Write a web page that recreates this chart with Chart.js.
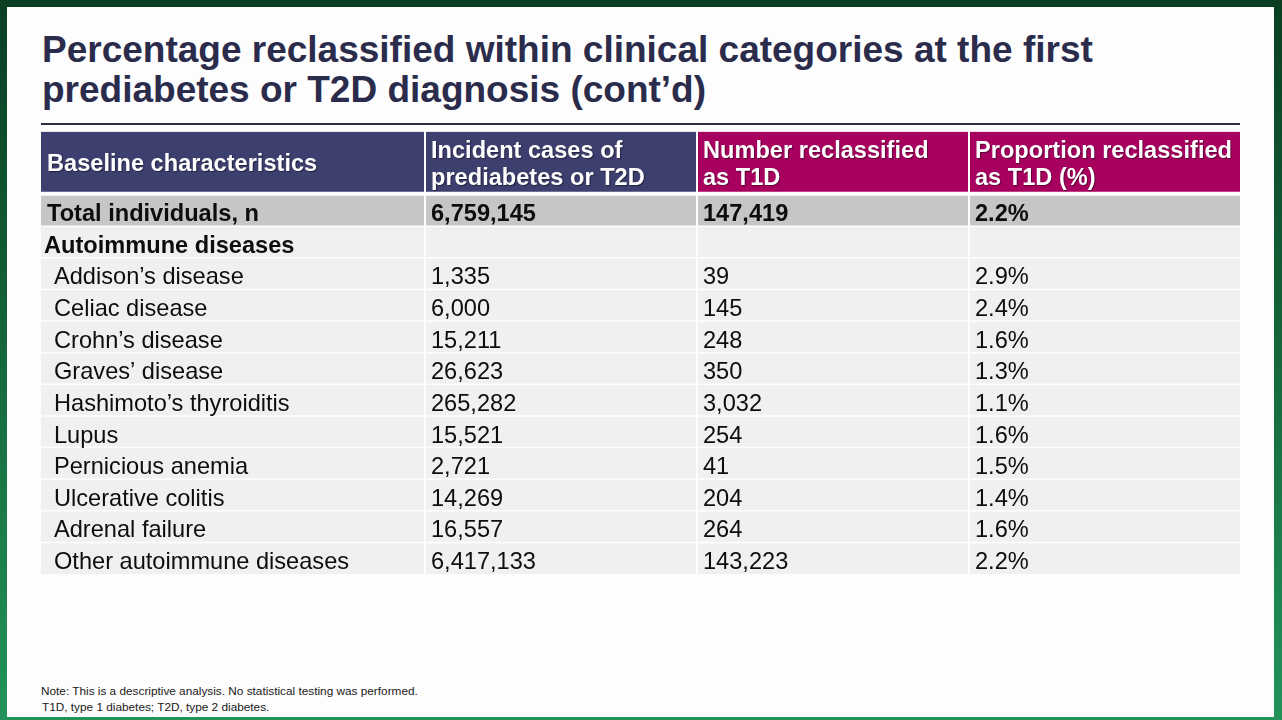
<!DOCTYPE html>
<html>
<head>
<meta charset="utf-8">
<script src="https://cdn.jsdelivr.net/npm/chart.js@4.4.1/dist/chart.umd.min.js"></script>
<style>
  html, body { margin: 0; padding: 0; }
  body {
    width: 1282px; height: 720px; position: relative; overflow: hidden;
    background: linear-gradient(to bottom, #0a3f22 0%, #115a33 35%, #1a7a48 70%, #23935a 100%);
    font-family: "Liberation Sans", Arial, sans-serif;
  }
  #panel {
    position: absolute; left: 7px; top: 7px; width: 1267px; height: 710px;
    background: #fdfdfd;
  }
  #title {
    position: absolute; left: 42px; top: 30px; margin: 0;
    font: bold 37px/40px "Liberation Sans", Arial, sans-serif;
    color: #2b2c4c; white-space: nowrap;
  }
  #rule {
    position: absolute; left: 41px; top: 123px; width: 1199px; height: 2px;
    background: #2e2e3c;
  }
  #table {
    position: absolute; left: 41px; top: 131px;
  }
  #notes {
    position: absolute; left: 41px; top: 683px;
    font: 11.8px/16px "Liberation Sans", Arial, sans-serif;
    color: #1a1a1a; white-space: nowrap;
  }
  #notes div + div { padding-left: 1px; }
</style>
</head>
<body>
<div id="panel"></div>
<h1 id="title"></h1>
<div id="rule"></div>
<canvas id="table" width="1199" height="443"></canvas>
<div id="notes"></div>
<script>
// ---------- DATA ----------
const titleLines = [
  'Percentage reclassified within clinical categories at the first',
  'prediabetes or T2D diagnosis (cont\u2019d)'
];
const columnHeaders = [
  ['Baseline characteristics'],
  ['Incident cases of', 'prediabetes or T2D'],
  ['Number reclassified', 'as T1D'],
  ['Proportion reclassified', 'as T1D (%)']
];
const totalLabel = 'Total individuals, n';
const totalIncident = 6759145;
const totalReclassified = 147419;
const totalProportion = 2.2;
const groupLabel = 'Autoimmune diseases';
const diseases = [
  'Addison\u2019s disease', 'Celiac disease', 'Crohn\u2019s disease', 'Graves\u2019 disease',
  'Hashimoto\u2019s thyroiditis', 'Lupus', 'Pernicious anemia', 'Ulcerative colitis',
  'Adrenal failure', 'Other autoimmune diseases'
];
const incidentCases = [1335, 6000, 15211, 26623, 265282, 15521, 2721, 14269, 16557, 6417133];
const numberReclassified = [39, 145, 248, 350, 3032, 254, 41, 204, 264, 143223];
const proportionReclassified = [2.9, 2.4, 1.6, 1.3, 1.1, 1.6, 1.5, 1.4, 1.6, 2.2];
const notes = [
  'Note: This is a descriptive analysis. No statistical testing was performed.',
  'T1D, type 1 diabetes; T2D, type 2 diabetes.'
];

// ---------- LAYOUT / STYLE ----------
const LAYOUT = {
  colWidths: [384, 272, 272, 271],
  textPad: 6, groupPad: 3, indentPad: 13,
  headerLineGap: 26.7, headerBaseline: 8.3, rowBaseline: 10.8,
  topPad: 0.4,
  font: '"Liberation Sans", Arial, sans-serif',
  fontSize: 23.6
};
const COLORS = {
  headerA: '#3d3f6f', headerB: '#a8005f', total: '#c5c7c6', body: '#eff1f0',
  gap: '#fdfdfd', text: '#0d0d0d', headerText: '#ffffff'
};

// ---------- BUILD ----------
document.getElementById('title').innerHTML = titleLines.join('<br>');
document.getElementById('notes').innerHTML = notes.map(n => '<div>' + n + '</div>').join('');

const fmtInt = v => v.toLocaleString('en-US');
const fmtPct = v => v.toFixed(1) + '%';

// rows: two header slots, total, group, diseases
const rows = [];
rows.push({ type: 'header' });
rows.push({ type: 'header2' });
rows.push({ type: 'total', cells: [totalLabel, fmtInt(totalIncident), fmtInt(totalReclassified), fmtPct(totalProportion)] });
rows.push({ type: 'group', cells: [groupLabel, '', '', ''] });
diseases.forEach((d, i) => rows.push({
  type: 'item',
  cells: [d, fmtInt(incidentCases[i]), fmtInt(numberReclassified[i]), fmtPct(proportionReclassified[i])]
}));

const rowKeys = rows.map((r, i) => 'r' + i);
const nCols = columnHeaders.length;
const colStarts = LAYOUT.colWidths.reduce((a, w, i) => { a.push(i === 0 ? 0 : a[i - 1] + LAYOUT.colWidths[i - 1]); return a; }, []);
const totalWidth = LAYOUT.colWidths.reduce((a, b) => a + b, 0);

function cellColor(ri, ci) {
  const t = rows[ri].type;
  if (t === 'header' || t === 'header2') return ci < 2 ? COLORS.headerA : COLORS.headerB;
  if (t === 'total') return COLORS.total;
  return COLORS.body;
}
function cellBorder(ri, ci) {
  const t = rows[ri].type;
  const left = ci === 0 ? 0 : 1;
  const right = ci === nCols - 1 ? 0 : 1;
  let top = 0.75, bottom = 0.75;
  if (t === 'header') { top = 0; bottom = 0; }
  else if (t === 'header2') { top = 0; bottom = 3; }
  else if (t === 'total') { top = 1; bottom = 0.75; }
  if (ri === rows.length - 1) bottom = 0;
  return { top, bottom, left, right };
}

const textPlugin = {
  id: 'tableText',
  afterDatasetsDraw(chart) {
    const ctx = chart.ctx;
    const xs = chart.scales.x, ys = chart.scales.y;
    const fs = LAYOUT.fontSize;
    ctx.save();
    ctx.textBaseline = 'alphabetic';
    ctx.textAlign = 'left';
    // header
    const hy = (ys.getPixelForValue(0) + ys.getPixelForValue(1)) / 2 + LAYOUT.headerBaseline;
    ctx.font = 'bold ' + fs + 'px ' + LAYOUT.font;
    ctx.fillStyle = COLORS.headerText;
    ctx.shadowColor = 'rgba(0,0,0,0.45)';
    ctx.shadowOffsetX = 1; ctx.shadowOffsetY = 1; ctx.shadowBlur = 1;
    columnHeaders.forEach((lines, ci) => {
      const x = xs.getPixelForValue(colStarts[ci]) + LAYOUT.textPad;
      const n = lines.length;
      lines.forEach((ln, li) => {
        const y = hy + (li - (n - 1) / 2) * LAYOUT.headerLineGap;
        ctx.fillText(ln, x, y);
      });
    });
    ctx.shadowColor = 'rgba(0,0,0,0)';
    ctx.shadowOffsetX = 0; ctx.shadowOffsetY = 0; ctx.shadowBlur = 0;
    // body
    ctx.fillStyle = COLORS.text;
    rows.forEach((r, ri) => {
      if (!r.cells) return;
      const y = ys.getPixelForValue(ri) + LAYOUT.rowBaseline;
      r.cells.forEach((txt, ci) => {
        if (!txt) return;
        let pad = LAYOUT.textPad;
        if (ci === 0) pad = r.type === 'item' ? LAYOUT.indentPad : (r.type === 'group' ? LAYOUT.groupPad : LAYOUT.textPad);
        const isBold = r.type === 'total' || (r.type === 'group' && ci === 0);
        ctx.font = (isBold ? 'bold ' : '') + fs + 'px ' + LAYOUT.font;
        ctx.fillText(txt, xs.getPixelForValue(colStarts[ci]) + pad, y);
      });
    });
    ctx.restore();
  }
};

new Chart(document.getElementById('table'), {
  type: 'bar',
  data: {
    labels: rowKeys,
    datasets: columnHeaders.map((h, ci) => ({
      label: h.join(' '),
      data: rowKeys.map(() => LAYOUT.colWidths[ci]),
      backgroundColor: c => cellColor(c.dataIndex, ci),
      borderColor: COLORS.gap,
      borderWidth: c => cellBorder(c.dataIndex, ci),
      borderSkipped: false,
      inflateAmount: 0,
      barPercentage: 1,
      categoryPercentage: 1
    }))
  },
  options: {
    indexAxis: 'y',
    responsive: false,
    animation: false,
    events: [],
    layout: { padding: { top: LAYOUT.topPad, bottom: 0, left: 0, right: 0 } },
    plugins: { legend: { display: false }, tooltip: { enabled: false }, title: { display: false } },
    scales: {
      x: { type: 'linear', stacked: true, min: 0, max: totalWidth, display: false },
      y: { type: 'category', stacked: true, display: false, offset: true }
    }
  },
  plugins: [textPlugin]
});
</script>
</body>
</html>
